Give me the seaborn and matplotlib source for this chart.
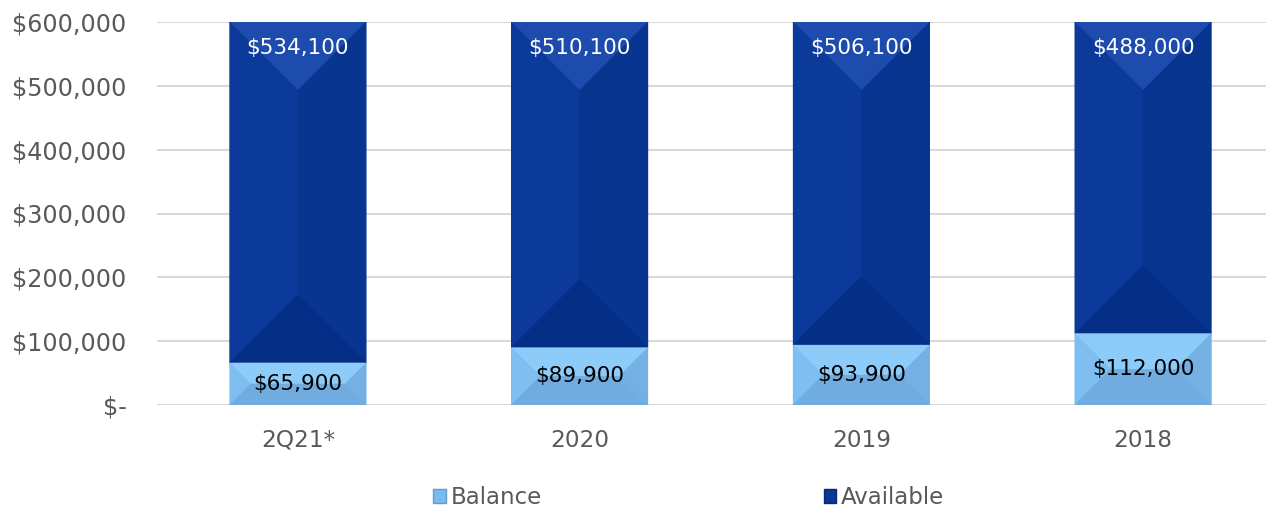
import pandas as pd
import matplotlib
matplotlib.use("Agg")
import matplotlib.pyplot as plt
import seaborn as sns
from matplotlib.patches import Patch, Polygon
from matplotlib.ticker import FuncFormatter

# dados do gráfico
periodos = ['2Q21*', '2020', '2019', '2018']
balance = [65900, 89900, 93900, 112000]
available = [534100, 510100, 506100, 488000]

cor_balance = '#7cbaee'
cor_available = '#0a3796'
cor_texto = '#595959'

# cores das faces do bisel (topo, esquerda, direita, base)
faces_available = ['#1d4cae', '#0b3a9a', '#07358f', '#052f86']
faces_balance = ['#8dcbf8', '#7ebef1', '#74b0e3', '#70ace0']

df = pd.DataFrame({'Periodo': periodos, 'Balance': balance, 'Available': available})
df['Total'] = df['Balance'] + df['Available']

sns.set_theme(style='white')
plt.rcParams['font.family'] = ['DejaVu Sans']

fig = plt.figure(figsize=(12.66, 5.08), dpi=100)
ax = fig.add_axes([157 / 1266, 103 / 508, (1266 - 157) / 1266, 383 / 508])

# barra total (Available) por baixo, Balance por cima
sns.barplot(x='Periodo', y='Total', data=df, color=cor_available, width=0.485,
            saturation=1, ax=ax, edgecolor='none')
sns.barplot(x='Periodo', y='Balance', data=df, color=cor_balance, width=0.485,
            saturation=1, ax=ax, edgecolor='none')

ax.set_ylim(0, 600000)
ax.set_xlim(-0.5, 3.436)

n = len(periodos)
barras_total = list(ax.patches[:n])
barras_balance = list(ax.patches[n:])


def bisel(p, faces, base):
    # faces em 45 graus, calculadas em pixels a partir da geometria da barra
    x0, y0 = ax.transData.transform((p.get_x(), base))
    x1, y1 = ax.transData.transform((p.get_x() + p.get_width(), p.get_y() + p.get_height()))
    meio = (x1 - x0) / 2
    d = min(meio, (y1 - y0) / 2)
    cx = (x0 + x1) / 2
    ti = (cx - meio + d, y1 - d)
    td = (cx + meio - d, y1 - d)
    bi = (cx - meio + d, y0 + d)
    bd = (cx + meio - d, y0 + d)
    polis = [
        [(x0, y1), (x1, y1), td, ti],
        [(x0, y1), ti, bi, (x0, y0)],
        [(x1, y1), (x1, y0), bd, td],
        [(x0, y0), bi, bd, (x1, y0)],
    ]
    inv = ax.transData.inverted()
    for pts, c in zip(polis, faces):
        ax.add_patch(Polygon(inv.transform(pts), closed=True, facecolor=c,
                             edgecolor=c, linewidth=0.3, zorder=p.get_zorder()))


for p, b in zip(barras_total, df['Balance']):
    bisel(p, faces_available, b)
for p in barras_balance:
    bisel(p, faces_balance, 0)

for p, v in zip(barras_total, df['Available']):
    ax.annotate(f'${v:,.0f}', (p.get_x() + p.get_width() / 2, p.get_y() + p.get_height()),
                xytext=(0, -19), textcoords='offset points', ha='center', va='center',
                color='white', fontsize=15.5, zorder=5)
for p, v in zip(barras_balance, df['Balance']):
    ax.annotate(f'${v:,.0f}', (p.get_x() + p.get_width() / 2, p.get_y() + p.get_height() / 2),
                ha='center', va='center', color='black', fontsize=15.5, zorder=5)

ax.set_yticks(range(0, 600001, 100000))
ax.yaxis.set_major_formatter(FuncFormatter(lambda v, pos: '$-' if v == 0 else f'${v:,.0f}'))
ax.yaxis.grid(True, color='#d9d9d9', linewidth=1.5)
ax.set_axisbelow(True)
for s in ax.spines.values():
    s.set_visible(False)
ax.set_xlabel('')
ax.set_ylabel('')
ax.tick_params(axis='y', labelsize=17.2, labelcolor=cor_texto, pad=22, length=0)
ax.tick_params(axis='x', labelsize=16.7, labelcolor=cor_texto, pad=17, length=0)

handles = [Patch(facecolor=cor_balance, edgecolor='#5e9ad6'),
           Patch(facecolor=cor_available, edgecolor='#062a70')]
fig.legend(handles, ['Balance', 'Available'], loc='center', bbox_to_anchor=(0.544, 0.02),
           ncol=2, frameon=False, fontsize=16.5, labelcolor=cor_texto,
           handlelength=0.55, handleheight=0.55, handletextpad=0.2, columnspacing=12.3)

fig.savefig('out.png', dpi=100)
